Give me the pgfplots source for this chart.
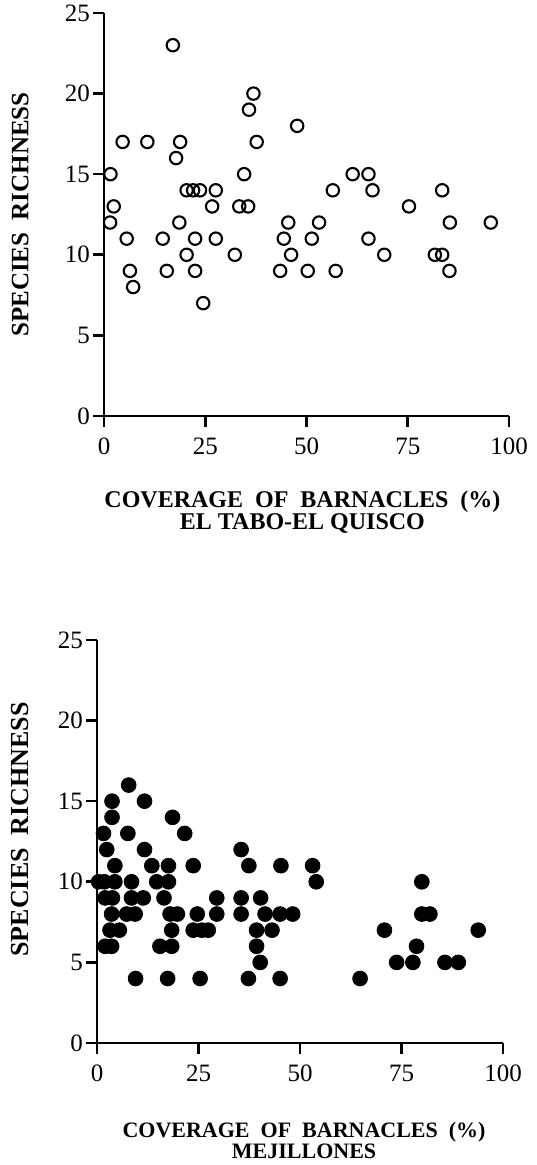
\documentclass[border=0pt]{standalone}
\usepackage{pgfplots}
\pgfplotsset{compat=1.18}
\usepackage{fontspec}
\setmainfont{Liberation Serif}
\begin{document}
\begin{tikzpicture}
\useasboundingbox (0,0) rectangle (268pt,582.5pt);
\pgfplotsset{
  myax/.style={
    scale only axis,
    xmin=0, xmax=100, ymin=0, ymax=25,
    axis lines=left,
    axis line style={-, line width=1.4pt},
    xtick={0,25,50,75,100},
    ytick={0,5,10,15,20,25},
    tick align=outside,
    major tick length=5.5pt,
    every tick/.style={line width=1.3pt, black},
    /pgf/number format/assume math mode=true,
    tick label style={font=\fontsize{12.5}{12.5}\selectfont},
    xticklabel style={yshift=-2pt},
    yticklabel style={xshift=2pt},
    clip=false,
  }
}
\begin{axis}[myax,
  width=202.5pt, height=201.5pt,
  at={(52pt,374.5pt)}, anchor=south west,
  xlabel={COVERAGE\ \ OF\ \ BARNACLES\ \ (\%)\\EL TABO-EL QUISCO},
  xlabel style={font=\bfseries\fontsize{12}{11}\selectfont, align=center,
    at={(axis description cs:0.49,0)}, anchor=north, yshift=-34pt},
  ylabel={SPECIES\ \ RICHNESS},
  ylabel style={font=\bfseries\fontsize{12.5}{12}\selectfont,
    at={(axis description cs:-0.207,0.5)}, anchor=center},
]
\addplot[only marks, mark=o, mark size=3.1pt, mark options={line width=1.05pt, black}] coordinates {
(17,23)(36.9,20)(35.8,19)(47.7,18)(4.6,17)(10.7,17)(18.8,17)(37.7,17)(17.8,16)
(1.6,15)(34.6,15)(61.4,15)(65.3,15)
(20.4,14)(22,14)(23.7,14)(27.6,14)(56.5,14)(66.3,14)(83.5,14)
(2.4,13)(26.7,13)(33.4,13)(35.6,13)(75.3,13)
(1.5,12)(18.6,12)(45.5,12)(53.1,12)(85.4,12)(95.5,12)
(5.6,11)(14.5,11)(22.5,11)(27.6,11)(44.4,11)(51.3,11)(65.3,11)
(20.4,10)(32.3,10)(46.2,10)(69.2,10)(81.7,10)(83.5,10)
(6.4,9)(15.5,9)(22.5,9)(43.5,9)(50.3,9)(57.2,9)(85.3,9)
(7.2,8)(24.5,7)
};
\end{axis}
\begin{axis}[myax,
  width=203pt, height=201.5pt,
  at={(48.5pt,61pt)}, anchor=south west,
  xlabel={COVERAGE\ \ OF\ \ BARNACLES\ \ (\%)\\MEJILLONES},
  xlabel style={font=\bfseries\fontsize{11}{9.5}\selectfont, align=center,
    at={(axis description cs:0.51,0)}, anchor=north, yshift=-36pt},
  ylabel={SPECIES\ \ RICHNESS},
  ylabel style={font=\bfseries\fontsize{13}{12}\selectfont,
    at={(axis description cs:-0.19,0.53)}, anchor=center},
]
\addplot[only marks, mark=*, mark size=3.7pt, mark options={black, fill=black}] coordinates {
(7.8,16)
(3.7,15)(11.7,15)
(3.7,14)(18.6,14)
(1.6,13)(7.6,13)(21.6,13)
(2.4,12)(11.7,12)(35.5,12)
(4.4,11)(13.5,11)(17.6,11)(23.7,11)(37.4,11)(45.3,11)(53.1,11)
(0.4,10)(1.8,10)(4.4,10)(8.5,10)(14.7,10)(17.6,10)(54.0,10)(80.0,10)
(2.0,9)(3.8,9)(8.5,9)(11.4,9)(16.5,9)(29.5,9)(35.5,9)(40.3,9)
(3.6,8)(7.3,8)(9.4,8)(18.0,8)(19.8,8)(24.7,8)(29.5,8)(35.5,8)(41.4,8)(45.1,8)(48.2,8)(80.0,8)(82.0,8)
(3.2,7)(5.5,7)(18.4,7)(23.7,7)(25.8,7)(27.4,7)(39.3,7)(43.1,7)(70.8,7)(93.9,7)
(2.0,6)(3.6,6)(15.5,6)(18.4,6)(39.3,6)(78.7,6)
(40.2,5)(73.8,5)(77.8,5)(85.7,5)(89.0,5)
(9.5,4)(17.4,4)(25.4,4)(37.3,4)(45.1,4)(64.8,4)
};
\end{axis}
\end{tikzpicture}
\end{document}
